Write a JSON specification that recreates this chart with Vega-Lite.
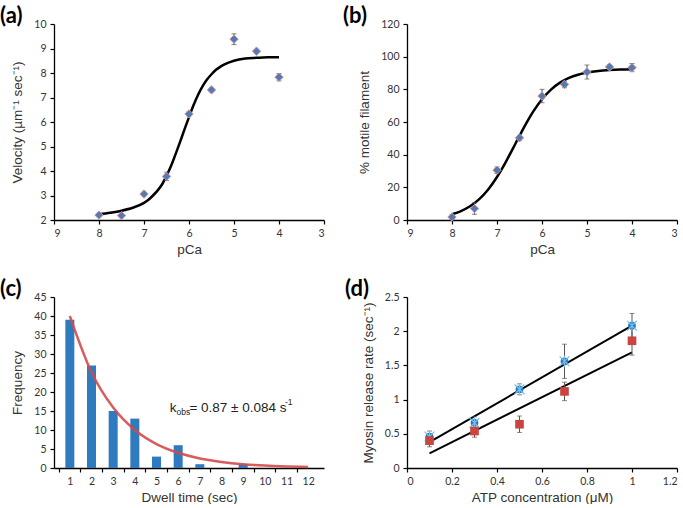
{
  "$schema": "https://vega.github.io/schema/vega-lite/v6.json",
  "padding": {"left": 0, "top": 5, "right": 2, "bottom": 0},
  "background": "white",
  "columns": 2,
  "spacing": {"row": 77, "column": 83},
  "bounds": "flush",
  "config": {
    "view": {"stroke": null},
    "axis": {
      "grid": false,
      "domainColor": "#000",
      "domainWidth": 1.3,
      "tickColor": "#000",
      "tickWidth": 1.2,
      "tickSize": 4,
      "labelFont": "Lato",
      "labelFontSize": 10.5,
      "labelColor": "#333",
      "labelPadding": 4,
      "titleFont": "Liberation Sans",
      "titleFontSize": 13.5,
      "titleFontWeight": "normal",
      "titleColor": "#333"
    },
    "axisY": {"titlePadding": 9},
    "title": {"font": "Lato", "fontSize": 22, "fontWeight": "bold", "color": "#000", "anchor": "start", "frame": "group", "baseline": "alphabetic", "offset": -9}
  },
  "datasets": {
    "aPts": [
      {"pca": 8, "v": 2.2, "err": 0.05},
      {"pca": 7.5, "v": 2.18, "err": 0.05},
      {"pca": 7, "v": 3.06, "err": 0.07},
      {"pca": 6.5, "v": 3.78, "err": 0.17},
      {"pca": 6, "v": 6.33, "err": 0.08},
      {"pca": 5.5, "v": 7.31, "err": 0.07},
      {"pca": 5, "v": 9.38, "err": 0.22},
      {"pca": 4.5, "v": 8.89, "err": 0.07},
      {"pca": 4, "v": 7.83, "err": 0.15}
    ],
    "aFit": [
      {"pca": 8, "v": 2.24}, {"pca": 7.75, "v": 2.3}, {"pca": 7.5, "v": 2.38}, {"pca": 7.25, "v": 2.5},
      {"pca": 7, "v": 2.7}, {"pca": 6.9, "v": 2.83}, {"pca": 6.8, "v": 3.0}, {"pca": 6.7, "v": 3.2},
      {"pca": 6.6, "v": 3.45}, {"pca": 6.5, "v": 3.8}, {"pca": 6.4, "v": 4.2}, {"pca": 6.3, "v": 4.68},
      {"pca": 6.2, "v": 5.18}, {"pca": 6.1, "v": 5.7}, {"pca": 6, "v": 6.2}, {"pca": 5.9, "v": 6.68},
      {"pca": 5.8, "v": 7.1}, {"pca": 5.7, "v": 7.45}, {"pca": 5.6, "v": 7.73}, {"pca": 5.5, "v": 7.95},
      {"pca": 5.4, "v": 8.13}, {"pca": 5.3, "v": 8.26}, {"pca": 5.2, "v": 8.36}, {"pca": 5, "v": 8.5},
      {"pca": 4.75, "v": 8.59}, {"pca": 4.5, "v": 8.62}, {"pca": 4.25, "v": 8.64}, {"pca": 4, "v": 8.64}
    ],
    "bPts": [
      {"pca": 8, "m": 1.8, "err": 1.5},
      {"pca": 7.5, "m": 7.0, "err": 3.5},
      {"pca": 7, "m": 30.5, "err": 2},
      {"pca": 6.5, "m": 50.3, "err": 1.5},
      {"pca": 6, "m": 75.9, "err": 4.1},
      {"pca": 5.5, "m": 83.0, "err": 2},
      {"pca": 5, "m": 90.6, "err": 4.3},
      {"pca": 4.5, "m": 93.7, "err": 1.5},
      {"pca": 4, "m": 93.3, "err": 2.5}
    ],
    "bFit": [
      {"pca": 8, "m": 3.54}, {"pca": 7.8, "m": 5.49}, {"pca": 7.6, "m": 8.41}, {"pca": 7.4, "m": 12.65},
      {"pca": 7.2, "m": 18.57}, {"pca": 7, "m": 26.34}, {"pca": 6.9, "m": 30.88}, {"pca": 6.8, "m": 35.79},
      {"pca": 6.7, "m": 40.95}, {"pca": 6.6, "m": 46.25}, {"pca": 6.5, "m": 51.55}, {"pca": 6.4, "m": 56.71},
      {"pca": 6.3, "m": 61.62}, {"pca": 6.2, "m": 66.16}, {"pca": 6, "m": 73.93}, {"pca": 5.8, "m": 79.85},
      {"pca": 5.6, "m": 84.09}, {"pca": 5.4, "m": 87.01}, {"pca": 5.2, "m": 88.96}, {"pca": 5, "m": 90.23},
      {"pca": 4.75, "m": 91.21}, {"pca": 4.5, "m": 91.77}, {"pca": 4.25, "m": 92.09}, {"pca": 4, "m": 92.27}
    ],
    "cBars": [
      {"x": 1, "y": 39}, {"x": 2, "y": 27}, {"x": 3, "y": 15}, {"x": 4, "y": 13},
      {"x": 5, "y": 3}, {"x": 6, "y": 6}, {"x": 7, "y": 1}, {"x": 8, "y": 0},
      {"x": 9, "y": 1}, {"x": 10, "y": 0}, {"x": 11, "y": 0}, {"x": 12, "y": 0}
    ],
    "cFit": [
      {"x": 1, "y": 40}, {"x": 2, "y": 25.2}, {"x": 3, "y": 15.9}, {"x": 4, "y": 10.0},
      {"x": 5, "y": 6.3}, {"x": 6, "y": 4.0}, {"x": 7, "y": 2.5}, {"x": 8, "y": 1.6},
      {"x": 9, "y": 1.0}, {"x": 10, "y": 0.63}, {"x": 11, "y": 0.4}, {"x": 12, "y": 0.25}
    ],
    "cText": [
      {"x": 5.61, "y": 14.7, "txt": "k", "sz": 13.5},
      {"x": 5.92, "y": 14.0, "txt": "obs", "sz": 8.5},
      {"x": 6.52, "y": 14.7, "txt": "= 0.87 ± 0.084 s", "sz": 13.5},
      {"x": 10.93, "y": 16.6, "txt": "-1", "sz": 8.5}
    ],
    "dBlue": [
      {"atp": 0.1, "rate": 0.46, "err": 0.08},
      {"atp": 0.3, "rate": 0.66, "err": 0.09},
      {"atp": 0.5, "rate": 1.15, "err": 0.08},
      {"atp": 0.7, "rate": 1.56, "err": 0.25},
      {"atp": 1.0, "rate": 2.08, "err": 0.18}
    ],
    "dRed": [
      {"atp": 0.1, "rate": 0.40, "err": 0.09},
      {"atp": 0.3, "rate": 0.54, "err": 0.09},
      {"atp": 0.5, "rate": 0.64, "err": 0.12},
      {"atp": 0.7, "rate": 1.12, "err": 0.135},
      {"atp": 1.0, "rate": 1.86, "err": 0.21}
    ],
    "dFit": [
      {"atp": 0.1, "rate": 0.38, "s": "blue"}, {"atp": 1.0, "rate": 2.08, "s": "blue"},
      {"atp": 0.1, "rate": 0.215, "s": "red"}, {"atp": 1.0, "rate": 1.69, "s": "red"}
    ]
  },
  "concat": [
    {
      "width": 270, "height": 196,
      "title": {"text": "(a)", "dx": -54},
      "encoding": {
        "x": {"field": "pca", "type": "quantitative", "scale": {"domain": [3, 9], "reverse": true, "nice": false, "zero": false}, "axis": {"values": [3, 4, 5, 6, 7, 8, 9], "title": "pCa"}},
        "y": {"field": "v", "type": "quantitative", "scale": {"domain": [2, 10], "nice": false, "zero": false}, "axis": {"values": [2, 3, 4, 5, 6, 7, 8, 9, 10], "title": "Velocity  (µm⁻¹ sec⁻¹)"}}
      },
      "layer": [
        {"data": {"name": "aFit"}, "mark": {"type": "line", "color": "#000", "strokeWidth": 2.5, "interpolate": "monotone"}},
        {"data": {"name": "aPts"}, "mark": {"type": "errorbar", "ticks": {"size": 5}, "color": "#555"}, "encoding": {"yError": {"field": "err"}}},
        {"data": {"name": "aPts"}, "mark": {"type": "point", "shape": "diamond", "filled": true, "size": 70, "fill": "#4a7ebb", "stroke": "#e08a8a", "strokeWidth": 1, "opacity": 1}}
      ]
    },
    {
      "width": 270, "height": 196,
      "title": {"text": "(b)", "dx": -64},
      "encoding": {
        "x": {"field": "pca", "type": "quantitative", "scale": {"domain": [3, 9], "reverse": true, "nice": false, "zero": false}, "axis": {"values": [3, 4, 5, 6, 7, 8, 9], "title": "pCa"}},
        "y": {"field": "m", "type": "quantitative", "scale": {"domain": [0, 120], "nice": false}, "axis": {"values": [0, 20, 40, 60, 80, 100, 120], "title": "% motile filament"}}
      },
      "layer": [
        {"data": {"name": "bFit"}, "mark": {"type": "line", "color": "#000", "strokeWidth": 2.5, "interpolate": "monotone"}},
        {"data": {"name": "bPts"}, "mark": {"type": "errorbar", "ticks": {"size": 5}, "color": "#555"}, "encoding": {"yError": {"field": "err"}}},
        {"data": {"name": "bPts"}, "mark": {"type": "point", "shape": "diamond", "filled": true, "size": 70, "fill": "#4a7ebb", "stroke": "#e08a8a", "strokeWidth": 1, "opacity": 1}}
      ]
    },
    {
      "width": 270, "height": 171,
      "title": {"text": "(c)", "dx": -54},
      "encoding": {
        "x": {"field": "x", "type": "quantitative", "scale": {"domain": [0.5, 12.5], "nice": false, "zero": false}, "axis": {"values": [1, 2, 3, 4, 5, 6, 7, 8, 9, 10, 11, 12, 13], "labelExpr": "datum.value > 12 ? '' : datum.label", "tickOffset": -11.25, "labelOffset": 11.25, "title": "Dwell time (sec)"}},
        "y": {"field": "y", "type": "quantitative", "scale": {"domain": [0, 45], "nice": false}, "axis": {"values": [0, 5, 10, 15, 20, 25, 30, 35, 40, 45], "title": "Frequency"}}
      },
      "layer": [
        {"data": {"name": "cBars"}, "mark": {"type": "bar", "orient": "vertical", "size": 9, "color": "#2E7BBF"}},
        {"data": {"name": "cFit"}, "mark": {"type": "line", "color": "#D44A4A", "strokeWidth": 2.5, "interpolate": "monotone", "opacity": 0.9}},
        {"data": {"name": "cText"}, "mark": {"type": "text", "align": "left", "baseline": "alphabetic", "font": "Liberation Sans", "color": "#222"}, "encoding": {"text": {"field": "txt"}, "size": {"field": "sz", "type": "quantitative", "scale": null}}}
      ]
    },
    {
      "width": 270, "height": 171,
      "title": {"text": "(d)", "dx": -62},
      "encoding": {
        "x": {"field": "atp", "type": "quantitative", "scale": {"domain": [0, 1.2], "nice": false}, "axis": {"values": [0, 0.2, 0.4, 0.6, 0.8, 1, 1.2], "format": "~g", "title": "ATP concentration (μM)"}},
        "y": {"field": "rate", "type": "quantitative", "scale": {"domain": [0, 2.5], "nice": false}, "axis": {"values": [0, 0.5, 1, 1.5, 2, 2.5], "format": "~g", "title": "Myosin release rate (sec⁻¹)"}}
      },
      "layer": [
        {"data": {"name": "dFit"}, "mark": {"type": "line", "color": "#000", "strokeWidth": 2}, "encoding": {"detail": {"field": "s"}}},
        {"data": {"name": "dBlue"}, "mark": {"type": "errorbar", "ticks": {"size": 5}, "color": "#555"}, "encoding": {"yError": {"field": "err"}}},
        {"data": {"name": "dRed"}, "mark": {"type": "errorbar", "ticks": {"size": 5}, "color": "#555"}, "encoding": {"yError": {"field": "err"}}},
        {"data": {"name": "dBlue"}, "mark": {"type": "point", "shape": "circle", "filled": true, "size": 60, "color": "#2a78b8", "opacity": 1}},
        {"data": {"name": "dBlue"}, "mark": {"type": "point", "shape": "M-1,-1L1,1M-1,1L1,-1M0,-1.2L0,1.2", "filled": false, "size": 95, "stroke": "#74bdec", "strokeWidth": 1.2, "opacity": 1}},
        {"data": {"name": "dRed"}, "mark": {"type": "point", "shape": "square", "filled": true, "size": 75, "color": "#c9453f", "opacity": 1}}
      ]
    }
  ]
}
